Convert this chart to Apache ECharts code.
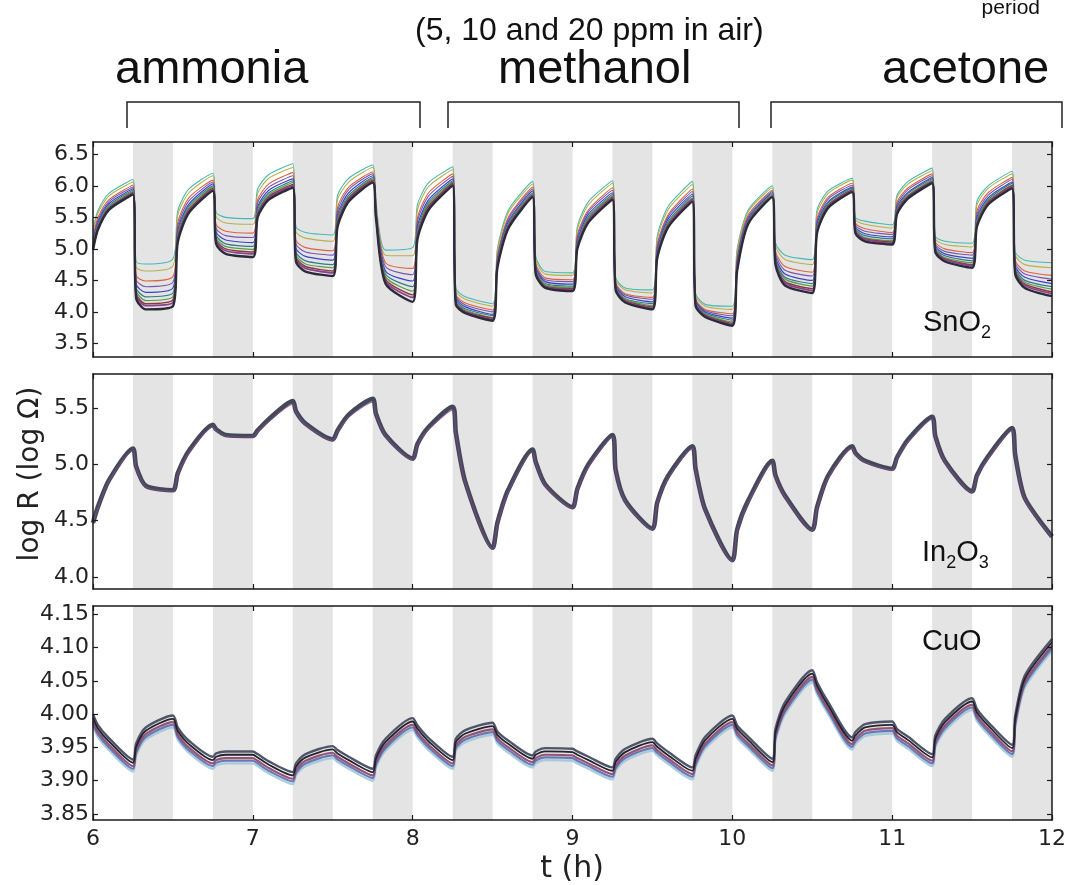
<!DOCTYPE html>
<html>
<head>
<meta charset="utf-8">
<script src="https://cdn.jsdelivr.net/npm/echarts@6/dist/echarts.min.js"></script>
<style>
  html, body { margin: 0; padding: 0; background: #ffffff; }
  #chart { width: 1080px; height: 885px; }
</style>
</head>
<body>
<div id="chart"></div>
<script>
// Sampling times (h) shared by every sensor trace
const TIME = [6, 6.03, 6.1, 6.25, 6.27, 6.33, 6.5, 6.53, 6.6, 6.75, 6.77, 6.83, 7, 7.03, 7.1, 7.25,
  7.27, 7.33, 7.5, 7.53, 7.6, 7.75, 7.77, 7.83, 8, 8.03, 8.1, 8.25, 8.27, 8.33, 8.5, 8.53, 8.6, 8.75,
  8.77, 8.83, 9, 9.03, 9.1, 9.25, 9.27, 9.33, 9.5, 9.53, 9.6, 9.75, 9.77, 9.83, 10, 10.03, 10.1, 10.25,
  10.27, 10.33, 10.5, 10.53, 10.6, 10.75, 10.77, 10.83, 11, 11.03, 11.1, 11.25, 11.27, 11.33, 11.5,
  11.53, 11.6, 11.75, 11.77, 11.83, 12];

// Gas exposure periods (shaded)
const EXPOSURE_BANDS = [[6.25, 6.5], [6.75, 7], [7.25, 7.5], [7.75, 8], [8.25, 8.5], [8.75, 9],
  [9.25, 9.5], [9.75, 10], [10.25, 10.5], [10.75, 11], [11.25, 11.5], [11.75, 12]];

const X_TICKS = [6, 7, 8, 9, 10, 11, 12];
const SNO2_TICKS = [3.5, 4.0, 4.5, 5.0, 5.5, 6.0, 6.5];
const IN2O3_TICKS = [4.0, 4.5, 5.0, 5.5];
const CUO_TICKS = [3.85, 3.90, 3.95, 4.00, 4.05, 4.10, 4.15];

// SnO2 sensor traces, log R (from least to most responsive)
const SNO2_CYAN = [5.30, 5.60, 5.88, 6.10, 4.80, 4.76, 4.84, 5.60, 5.95, 6.20, 5.58, 5.50, 5.48,
  5.95, 6.18, 6.35, 5.35, 5.26, 5.22, 5.85, 6.12, 6.33, 5.75, 4.98, 5.02, 5.70, 6.05, 6.30, 4.38, 4.24,
  4.13, 5.00, 5.62, 6.07, 4.88, 4.64, 4.62, 5.35, 5.75, 6.08, 4.55, 4.38, 4.35, 5.20, 5.68, 6.07, 4.30,
  4.12, 4.09, 5.00, 5.62, 6.00, 5.10, 4.90, 4.83, 5.62, 5.92, 6.12, 5.50, 5.44, 5.38, 5.85, 6.07, 6.28,
  5.20, 5.12, 5.09, 5.75, 6.00, 6.23, 4.95, 4.82, 4.78];
const SNO2_OLIVE = [5.25, 5.56, 5.84, 6.06, 4.71, 4.65, 4.73, 5.53, 5.89, 6.16, 5.51, 5.41, 5.39,
  5.88, 6.12, 6.29, 5.27, 5.17, 5.12, 5.78, 6.06, 6.29, 5.71, 4.90, 4.89, 5.62, 5.99, 6.26, 4.34, 4.20,
  4.09, 4.96, 5.58, 6.03, 4.84, 4.60, 4.58, 5.30, 5.70, 6.04, 4.52, 4.35, 4.30, 5.15, 5.63, 6.02, 4.27,
  4.09, 4.04, 4.95, 5.59, 5.97, 5.05, 4.83, 4.75, 5.56, 5.88, 6.09, 5.46, 5.39, 5.33, 5.81, 6.03, 6.24,
  5.16, 5.07, 5.03, 5.69, 5.96, 6.19, 4.90, 4.75, 4.70];
const SNO2_RED = [5.18, 5.49, 5.78, 6.01, 4.58, 4.49, 4.56, 5.41, 5.81, 6.09, 5.39, 5.28, 5.25,
  5.78, 6.03, 6.21, 5.14, 5.02, 4.97, 5.66, 5.98, 6.22, 5.66, 4.78, 4.69, 5.49, 5.89, 6.19, 4.28, 4.14,
  4.03, 4.89, 5.51, 5.98, 4.77, 4.54, 4.51, 5.22, 5.62, 5.97, 4.47, 4.29, 4.23, 5.07, 5.55, 5.95, 4.22,
  4.04, 3.97, 4.87, 5.54, 5.93, 4.97, 4.72, 4.63, 5.48, 5.82, 6.04, 5.41, 5.32, 5.26, 5.74, 5.97, 6.19,
  5.11, 5.00, 4.94, 5.60, 5.89, 6.13, 4.82, 4.65, 4.58];
const SNO2_VIOLET = [5.14, 5.45, 5.75, 5.98, 4.51, 4.40, 4.47, 5.35, 5.76, 6.06, 5.33, 5.21, 5.18,
  5.73, 5.98, 6.16, 5.08, 4.95, 4.90, 5.60, 5.94, 6.19, 5.63, 4.72, 4.59, 5.43, 5.84, 6.15, 4.25, 4.11,
  4.00, 4.85, 5.48, 5.95, 4.74, 4.51, 4.48, 5.18, 5.59, 5.93, 4.45, 4.27, 4.20, 5.03, 5.52, 5.91, 4.20,
  4.02, 3.94, 4.83, 5.51, 5.91, 4.93, 4.66, 4.57, 5.44, 5.79, 6.01, 5.38, 5.28, 5.23, 5.70, 5.94, 6.16,
  5.08, 4.96, 4.90, 5.55, 5.85, 6.10, 4.78, 4.60, 4.52];
const SNO2_BLUE = [5.10, 5.41, 5.72, 5.95, 4.44, 4.31, 4.38, 5.29, 5.71, 6.03, 5.27, 5.14, 5.10,
  5.67, 5.93, 6.11, 5.01, 4.88, 4.82, 5.54, 5.89, 6.16, 5.60, 4.65, 4.49, 5.36, 5.78, 6.11, 4.22, 4.08,
  3.96, 4.81, 5.44, 5.92, 4.71, 4.48, 4.44, 5.13, 5.55, 5.89, 4.43, 4.24, 4.16, 4.98, 5.48, 5.87, 4.18,
  4.00, 3.90, 4.78, 5.48, 5.89, 4.88, 4.60, 4.50, 5.39, 5.75, 5.98, 5.35, 5.24, 5.19, 5.66, 5.90, 6.13,
  5.05, 4.92, 4.85, 5.50, 5.81, 6.06, 4.73, 4.55, 4.45];
const SNO2_TEAL = [5.07, 5.38, 5.69, 5.93, 4.38, 4.24, 4.30, 5.24, 5.68, 6.00, 5.22, 5.08, 5.04,
  5.63, 5.89, 6.08, 4.95, 4.81, 4.75, 5.49, 5.85, 6.13, 5.57, 4.60, 4.40, 5.30, 5.74, 6.08, 4.19, 4.05,
  3.94, 4.78, 5.41, 5.89, 4.68, 4.45, 4.41, 5.10, 5.51, 5.86, 4.41, 4.21, 4.13, 4.95, 5.44, 5.84, 4.16,
  3.98, 3.87, 4.75, 5.46, 5.87, 4.85, 4.55, 4.45, 5.35, 5.73, 5.96, 5.32, 5.21, 5.16, 5.63, 5.88, 6.11,
  5.02, 4.89, 4.81, 5.46, 5.78, 6.04, 4.70, 4.50, 4.40];
const SNO2_GREEN = [5.04, 5.36, 5.67, 5.91, 4.34, 4.18, 4.24, 5.20, 5.65, 5.98, 5.18, 5.04, 4.99,
  5.59, 5.86, 6.05, 4.91, 4.76, 4.70, 5.45, 5.82, 6.11, 5.55, 4.56, 4.33, 5.26, 5.71, 6.06, 4.17, 4.03,
  3.91, 4.76, 5.39, 5.87, 4.66, 4.43, 4.39, 5.07, 5.49, 5.84, 4.39, 4.20, 4.10, 4.92, 5.42, 5.81, 4.14,
  3.96, 3.84, 4.72, 5.44, 5.86, 4.82, 4.52, 4.41, 5.32, 5.70, 5.94, 5.30, 5.18, 5.13, 5.61, 5.85, 6.09,
  5.00, 4.86, 4.78, 5.43, 5.76, 6.01, 4.67, 4.47, 4.36];
const SNO2_MAROON = [5.02, 5.34, 5.65, 5.89, 4.30, 4.13, 4.19, 5.17, 5.62, 5.96, 5.15, 5.00, 4.95,
  5.56, 5.83, 6.02, 4.87, 4.72, 4.65, 5.42, 5.80, 6.09, 5.53, 4.52, 4.27, 5.22, 5.68, 6.04, 4.15, 4.01,
  3.90, 4.74, 5.37, 5.85, 4.64, 4.41, 4.37, 5.05, 5.46, 5.82, 4.38, 4.18, 4.08, 4.90, 5.39, 5.79, 4.13,
  3.95, 3.82, 4.70, 5.43, 5.84, 4.80, 4.48, 4.37, 5.30, 5.69, 5.93, 5.28, 5.16, 5.11, 5.59, 5.84, 6.07,
  4.98, 4.84, 4.75, 5.40, 5.74, 6.00, 4.65, 4.44, 4.32];
const SNO2_MAGENTA = [5.01, 5.32, 5.64, 5.88, 4.27, 4.10, 4.15, 5.14, 5.60, 5.94, 5.12, 4.97, 4.92,
  5.54, 5.81, 6.00, 4.84, 4.69, 4.62, 5.39, 5.78, 6.07, 5.52, 4.49, 4.23, 5.19, 5.65, 6.02, 4.14, 4.00,
  3.88, 4.72, 5.35, 5.84, 4.62, 4.40, 4.35, 5.03, 5.45, 5.80, 4.37, 4.17, 4.06, 4.88, 5.38, 5.78, 4.12,
  3.94, 3.80, 4.68, 5.42, 5.83, 4.78, 4.46, 4.34, 5.28, 5.67, 5.92, 5.27, 5.15, 5.09, 5.57, 5.82, 6.06,
  4.97, 4.83, 4.73, 5.38, 5.72, 5.98, 4.63, 4.42, 4.29];
const SNO2_BLACK = [4.98, 5.30, 5.62, 5.86, 4.22, 4.04, 4.09, 5.10, 5.57, 5.92, 5.08, 4.92, 4.87,
  5.50, 5.78, 5.97, 4.80, 4.64, 4.57, 5.35, 5.75, 6.05, 5.50, 4.45, 4.16, 5.15, 5.62, 6.00, 4.12, 3.98,
  3.86, 4.70, 5.33, 5.82, 4.60, 4.38, 4.33, 5.00, 5.42, 5.78, 4.35, 4.15, 4.04, 4.85, 5.35, 5.75, 4.10,
  3.92, 3.78, 4.65, 5.40, 5.82, 4.75, 4.42, 4.30, 5.25, 5.65, 5.90, 5.25, 5.12, 5.07, 5.55, 5.80, 6.04,
  4.95, 4.80, 4.70, 5.35, 5.70, 5.96, 4.60, 4.38, 4.25];

// In2O3 sensor traces, log R
const IN2O3_DARK = [4.48, 4.62, 4.86, 5.14, 4.98, 4.81, 4.77, 4.92, 5.12, 5.35, 5.31, 5.26, 5.25,
  5.30, 5.40, 5.56, 5.47, 5.36, 5.22, 5.30, 5.44, 5.58, 5.45, 5.26, 5.05, 5.18, 5.33, 5.51, 5.28, 4.84,
  4.26, 4.48, 4.78, 5.13, 5.02, 4.82, 4.62, 4.78, 5.00, 5.26, 4.95, 4.68, 4.43, 4.66, 4.90, 5.16, 4.96,
  4.60, 4.15, 4.42, 4.68, 5.03, 4.90, 4.72, 4.42, 4.62, 4.90, 5.16, 5.10, 5.03, 4.96, 5.06, 5.22, 5.42,
  5.25, 5.03, 4.76, 4.90, 5.07, 5.32, 5.08, 4.70, 4.36];
const IN2O3_PURPLE = [4.47, 4.61, 4.85, 5.12, 4.97, 4.80, 4.76, 4.91, 5.10, 5.33, 5.30, 5.25, 5.24,
  5.29, 5.38, 5.53, 5.46, 5.35, 5.21, 5.29, 5.42, 5.55, 5.44, 5.25, 5.04, 5.17, 5.31, 5.48, 5.27, 4.83,
  4.25, 4.47, 4.76, 5.11, 5.01, 4.81, 4.61, 4.77, 4.98, 5.24, 4.94, 4.67, 4.42, 4.65, 4.88, 5.14, 4.95,
  4.59, 4.14, 4.41, 4.66, 5.01, 4.89, 4.71, 4.41, 4.61, 4.88, 5.14, 5.09, 5.02, 4.95, 5.05, 5.20, 5.40,
  5.24, 5.02, 4.75, 4.89, 5.05, 5.30, 5.07, 4.69, 4.35];

// CuO sensor traces, log R
const CUO_SLATE = [4.000, 3.984, 3.964, 3.932, 3.956, 3.980, 3.998, 3.980, 3.960, 3.936, 3.941, 3.944,
  3.944, 3.940, 3.929, 3.913, 3.926, 3.940, 3.952, 3.946, 3.936, 3.918, 3.938, 3.963, 3.994, 3.983,
  3.964, 3.936, 3.963, 3.976, 3.987, 3.974, 3.960, 3.938, 3.944, 3.949, 3.948, 3.944, 3.936, 3.920,
  3.933, 3.948, 3.963, 3.956, 3.943, 3.920, 3.938, 3.966, 3.998, 3.983, 3.966, 3.933, 3.978, 4.018,
  4.066, 4.048, 4.018, 3.965, 3.973, 3.985, 3.989, 3.978, 3.966, 3.940, 3.968, 3.993, 4.024, 4.008,
  3.988, 3.954, 3.998, 4.058, 4.113];
const CUO_BLACK = [3.995, 3.979, 3.959, 3.927, 3.951, 3.975, 3.993, 3.975, 3.955, 3.931, 3.936, 3.939,
  3.939, 3.935, 3.924, 3.908, 3.921, 3.935, 3.947, 3.941, 3.931, 3.913, 3.933, 3.958, 3.989, 3.978,
  3.959, 3.931, 3.958, 3.971, 3.982, 3.969, 3.955, 3.933, 3.939, 3.944, 3.943, 3.939, 3.931, 3.915,
  3.928, 3.943, 3.958, 3.951, 3.938, 3.915, 3.933, 3.961, 3.993, 3.978, 3.961, 3.928, 3.973, 4.013,
  4.061, 4.043, 4.013, 3.960, 3.968, 3.980, 3.984, 3.973, 3.961, 3.935, 3.963, 3.988, 4.019, 4.003,
  3.983, 3.949, 3.993, 4.053, 4.108];
const CUO_RED = [3.990, 3.974, 3.954, 3.922, 3.946, 3.970, 3.988, 3.970, 3.950, 3.926, 3.931, 3.934,
  3.934, 3.930, 3.919, 3.903, 3.916, 3.930, 3.942, 3.936, 3.926, 3.908, 3.928, 3.953, 3.984, 3.973,
  3.954, 3.926, 3.953, 3.966, 3.977, 3.964, 3.950, 3.928, 3.934, 3.939, 3.938, 3.934, 3.926, 3.910,
  3.923, 3.938, 3.953, 3.946, 3.933, 3.910, 3.928, 3.956, 3.988, 3.973, 3.956, 3.923, 3.968, 4.008,
  4.056, 4.038, 4.008, 3.955, 3.963, 3.975, 3.979, 3.968, 3.956, 3.930, 3.958, 3.983, 4.014, 3.998,
  3.978, 3.944, 3.988, 4.048, 4.103];
const CUO_BLUE = [3.986, 3.970, 3.950, 3.918, 3.942, 3.966, 3.984, 3.966, 3.946, 3.922, 3.927, 3.930,
  3.930, 3.926, 3.915, 3.899, 3.912, 3.926, 3.938, 3.932, 3.922, 3.904, 3.924, 3.949, 3.980, 3.969,
  3.950, 3.922, 3.949, 3.962, 3.973, 3.960, 3.946, 3.924, 3.930, 3.935, 3.934, 3.930, 3.922, 3.906,
  3.919, 3.934, 3.949, 3.942, 3.929, 3.906, 3.924, 3.952, 3.984, 3.969, 3.952, 3.919, 3.964, 4.004,
  4.052, 4.034, 4.004, 3.951, 3.959, 3.971, 3.975, 3.964, 3.952, 3.926, 3.954, 3.979, 4.010, 3.994,
  3.974, 3.940, 3.984, 4.044, 4.099];
const CUO_CYAN = [3.982, 3.966, 3.946, 3.914, 3.938, 3.962, 3.980, 3.962, 3.942, 3.918, 3.923, 3.926,
  3.926, 3.922, 3.911, 3.895, 3.908, 3.922, 3.934, 3.928, 3.918, 3.900, 3.920, 3.945, 3.976, 3.965,
  3.946, 3.918, 3.945, 3.958, 3.969, 3.956, 3.942, 3.920, 3.926, 3.931, 3.930, 3.926, 3.918, 3.902,
  3.915, 3.930, 3.945, 3.938, 3.925, 3.902, 3.920, 3.948, 3.980, 3.965, 3.948, 3.915, 3.960, 4.000,
  4.048, 4.030, 4.000, 3.947, 3.955, 3.967, 3.971, 3.960, 3.948, 3.922, 3.950, 3.975, 4.006, 3.990,
  3.970, 3.936, 3.980, 4.040, 4.095];

// ---- layout of the three stacked panels ----
const PLOT_LEFT = 93, PLOT_RIGHT = 28;
const panels = [
  { top: 142, height: 215, min: 3.285, max: 6.695, ticks: SNO2_TICKS, digits: 1,
    traces: [
      { data: SNO2_CYAN, color: '#45b9b3', width: 1.1 },
      { data: SNO2_OLIVE, color: '#b8b04a', width: 1.1 },
      { data: SNO2_RED, color: '#dc643c', width: 1.1 },
      { data: SNO2_VIOLET, color: '#7a55b0', width: 1.1 },
      { data: SNO2_BLUE, color: '#3b42c6', width: 1.2 },
      { data: SNO2_TEAL, color: '#2f7c86', width: 1.2 },
      { data: SNO2_GREEN, color: '#5b9d4c', width: 1.3 },
      { data: SNO2_MAROON, color: '#8a3a3a', width: 1.4 },
      { data: SNO2_MAGENTA, color: '#8e3f8e', width: 1.8 },
      { data: SNO2_BLACK, color: '#2a2c38', width: 2.4 }
    ] },
  { top: 374, height: 215, min: 3.895, max: 5.8, ticks: IN2O3_TICKS, digits: 1,
    traces: [
      { data: IN2O3_DARK, color: '#44495a', width: 4.6 },
      { data: IN2O3_PURPLE, color: '#7c4a82', width: 1.3, opacity: 0.75 }
    ] },
  { top: 606, height: 214, min: 3.841, max: 4.1625, ticks: CUO_TICKS, digits: 2,
    traces: [
      { data: CUO_CYAN, color: '#9cc6d8', width: 2.4, opacity: 0.85 },
      { data: CUO_BLUE, color: '#5a6cb0', width: 2.2, opacity: 0.9 },
      { data: CUO_RED, color: '#8c4466', width: 2.2, opacity: 0.9 },
      { data: CUO_SLATE, color: '#50566a', width: 2.4 },
      { data: CUO_BLACK, color: '#23232e', width: 1.8 }
    ] }
];

const TICK_FONT = { fontFamily: 'DejaVu Sans', fontSize: 22, color: '#222' };
const FRAME = { show: true, onZero: false, lineStyle: { color: '#1a1a1a', width: 1.5 } };
const INNER_TICK = { show: true, inside: true, length: 5, lineStyle: { color: '#1a1a1a', width: 1.2 } };

const grid = [], xAxis = [], yAxis = [], series = [];
panels.forEach((p, i) => {
  grid.push({ left: PLOT_LEFT, right: PLOT_RIGHT, top: p.top, height: p.height });
  const last = i === panels.length - 1;
  ['bottom', 'top'].forEach((pos) => {
    xAxis.push({
      type: 'value', gridIndex: i, position: pos, min: 6, max: 12, interval: 1, z: 5,
      axisLine: FRAME, splitLine: { show: false },
      axisTick: Object.assign({}, INNER_TICK, { customValues: X_TICKS }),
      axisLabel: (pos === 'bottom' && last)
        ? Object.assign({ show: true, margin: 8, customValues: X_TICKS }, TICK_FONT)
        : { show: false }
    });
  });
  ['left', 'right'].forEach((pos) => {
    yAxis.push({
      type: 'value', gridIndex: i, position: pos, min: p.min, max: p.max, z: 5,
      axisLine: FRAME, splitLine: { show: false },
      axisTick: Object.assign({}, INNER_TICK, { customValues: p.ticks }),
      axisLabel: pos === 'left'
        ? Object.assign({ show: true, margin: 4, customValues: p.ticks,
            formatter: (v) => Number(v).toFixed(p.digits) }, TICK_FONT)
        : { show: false }
    });
  });
  // shaded exposure periods
  series.push({
    type: 'line', xAxisIndex: 2 * i, yAxisIndex: 2 * i, data: [], z: 1, silent: true,
    markArea: {
      silent: true, z: 1,
      itemStyle: { color: '#e4e4e4' },
      data: EXPOSURE_BANDS.map(([a, b]) => [{ xAxis: a }, { xAxis: b }])
    }
  });
  p.traces.forEach((tr) => {
    series.push({
      type: 'line', xAxisIndex: 2 * i, yAxisIndex: 2 * i, z: 3, silent: true,
      data: TIME.map((t, k) => [t, tr.data[k]]),
      showSymbol: false, symbol: 'none', smooth: 0.25,
      lineStyle: { color: tr.color, width: tr.width, opacity: tr.opacity == null ? 1 : tr.opacity }
    });
  });
});

const SANS = 'Liberation Sans';
function label(text, x, y, size, extra) {
  return Object.assign({
    type: 'text', x: x, y: y, z: 10, silent: true,
    style: { text: text, fontFamily: SANS, fontSize: size, lineHeight: size, fill: '#111',
      verticalAlign: 'top' }
  }, extra || {});
}
function bracket(x0, x1) {
  return { type: 'polyline', z: 10, silent: true,
    shape: { points: [[x0, 128], [x0, 102], [x1, 102], [x1, 128]] },
    style: { stroke: '#222', lineWidth: 1.5, fill: null } };
}
function chem(parts, x, lineTop) {
  return {
    type: 'text', x: x, y: lineTop, z: 10, silent: true,
    style: {
      text: parts, verticalAlign: 'top', fill: '#111',
      rich: {
        a: { fontFamily: SANS, fontSize: 29, lineHeight: 29, verticalAlign: 'top', fill: '#111' },
        s: { fontFamily: SANS, fontSize: 18, lineHeight: 18, verticalAlign: 'top', padding: [16, 0, 0, 0], fill: '#111' }
      }
    }
  };
}

const graphic = [
  label('period', 1040, -2, 21, { style: { text: 'period', fontFamily: SANS, fontSize: 21,
    lineHeight: 21, fill: '#111', verticalAlign: 'top', align: 'right' } }),
  label('(5, 10 and 20 ppm in air)', 415, 15, 32),
  label('ammonia', 115, 47, 47),
  label('methanol', 498, 47, 47),
  label('acetone', 882, 47, 47),
  bracket(127, 420), bracket(448, 739), bracket(771, 1062),
  chem('{a|SnO}{s|2}', 923, 308),
  chem('{a|In}{s|2}{a|O}{s|3}', 922, 538),
  chem('{a|CuO}', 922, 627),
  {
    type: 'text', x: 31, y: 474, rotation: Math.PI / 2, z: 10, silent: true,
    style: { text: 'log R (log \u03A9)', fontFamily: 'DejaVu Sans', fontSize: 28, fill: '#222',
      align: 'center', verticalAlign: 'middle' }
  },
  {
    type: 'text', x: 572, y: 854, z: 10, silent: true,
    style: { text: 't (h)', fontFamily: 'DejaVu Sans', fontSize: 30, fill: '#222',
      align: 'center', verticalAlign: 'top' }
  }
];

const chart = echarts.init(document.getElementById('chart'), null, { renderer: 'canvas' });
chart.setOption({
  animation: false,
  backgroundColor: '#ffffff',
  grid: grid,
  xAxis: xAxis,
  yAxis: yAxis,
  series: series,
  graphic: graphic
});
</script>
</body>
</html>
